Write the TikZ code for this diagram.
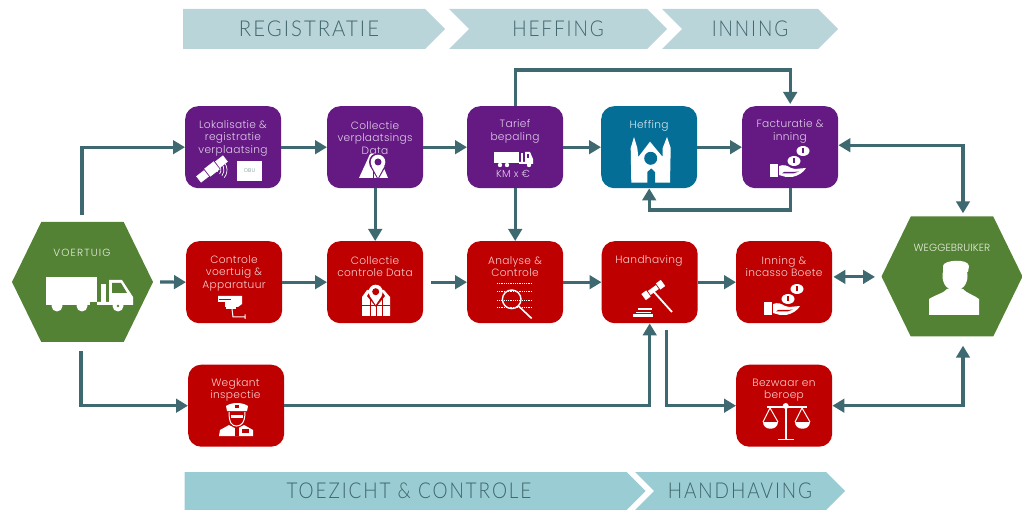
\documentclass[tikz,border=0pt]{standalone}
\usepackage{fontspec}
\usepackage{graphicx}
\setmainfont[LetterSpace=3]{Poppins Light}
\newfontfamily\headfont[LetterSpace=10]{Lato Light}
\newfontfamily\hexfontA[LetterSpace=11]{Poppins Light}
\newfontfamily\hexfontB[LetterSpace=1]{Poppins Light}
\usetikzlibrary{arrows.meta,shapes.symbols,calc}
\definecolor{purp}{HTML}{641A82}
\definecolor{bluebox}{HTML}{056E96}
\definecolor{redbox}{HTML}{BE0000}
\definecolor{greenhex}{HTML}{548235}
\definecolor{linkc}{HTML}{3E6970}
\definecolor{headA}{HTML}{BAD5DA}
\definecolor{headB}{HTML}{9ACDD3}
\definecolor{headT}{HTML}{3F666C}
\definecolor{purpT}{HTML}{E0CDE8}
\definecolor{redT}{HTML}{F8CFCF}
\definecolor{blueT}{HTML}{D4E8F0}
\definecolor{greenT}{HTML}{E6EEDD}
\newcommand{\tallhead}[1]{\scalebox{1}[1.15]{#1}}
\tikzset{
  x=1pt,y=-1pt,
  boxnode/.style={rectangle,rounded corners=13pt,minimum width=96pt,minimum height=82pt,inner sep=0pt,anchor=north west},
  purpcard/.style={boxnode,fill=purp},
  bluecard/.style={boxnode,fill=bluebox},
  redcard/.style={boxnode,fill=redbox},
  captext/.style={anchor=center,align=center,font=\fontsize{10.6}{12.5}\selectfont,inner sep=0pt},
  hexnode/.style={signal,signal to=east and west,signal pointer angle=128,fill=greenhex,minimum width=141pt,minimum height=120pt,inner sep=0pt},
  chev/.style={signal,signal to=east,signal from=west,signal pointer angle=90,inner sep=0pt,anchor=center,text=headT,font=\headfont\fontsize{19}{19}\selectfont},
  link/.style={draw=linkc,line width=3.2pt,line join=miter,-{Triangle[length=12pt,width=13.5pt]}},
  dbl/.style={link,{Triangle[length=12pt,width=13.5pt]}-{Triangle[length=12pt,width=13.5pt]}},
  pics/coinhand/.style={code={
    \fill[white] (-20,13) rectangle (-12.5,26);
    \fill[white] (-11,15) .. controls (-6,13) and (-2,15) .. (1,17) -- (5,18) -- (16,17) .. controls (14,21) and (8,25) .. (2,26) -- (-4,26) -- (-11,24) -- cycle;
    \fill[#1] (-8,22.5) -- (3,22.5) -- (9,20.5) -- (3,21) -- (-6,21) -- cycle;
    \fill[white] (13,0) ellipse (6.5 and 5);
    \fill[white] (4,10) ellipse (6.5 and 5);
    \fill[#1] (12.2,-2.5) rectangle (13.8,2.5);
    \fill[#1] (3.2,7.5) rectangle (4.8,12.5);
  }}
}
\begin{document}
\begin{tikzpicture}
\useasboundingbox (0,0) rectangle (1022,510);

% phase chevrons
\node[chev,fill=headA,signal from=nowhere,minimum width=262pt,minimum height=40pt] (cReg) at (304,29) {\hspace*{10pt}\scalebox{1.07}[1.15]{REGISTRATIE}};
\node[chev,fill=headA,minimum width=218pt,minimum height=40pt] (cHef) at (558,29) {\tallhead{HEFFING}};
\node[chev,fill=headA,minimum width=176pt,minimum height=40pt] (cInn) at (750,29) {\tallhead{INNING}};
\node[chev,fill=headB,signal from=nowhere,minimum width=461pt,minimum height=38pt] (cToe) at (405.5,491) {\hspace*{7pt}\tallhead{TOEZICHT \& CONTROLE}};
\node[chev,fill=headB,minimum width=210pt,minimum height=38pt] (cHan) at (740,491) {\tallhead{HANDHAVING}};

% hexagons
\node[hexnode] (voer) at (82.5,282) {};
\node[hexnode] (wegg) at (952,276.5) {};
\node[text=greenT,font=\hexfontA\fontsize{10.4}{11}\selectfont,inner sep=0pt] (voerT) at (82,253) {VOERTUIG};
\node[text=greenT,font=\hexfontB\fontsize{10.4}{11}\selectfont,inner sep=0pt] (weggT) at (952,248) {WEGGEBRUIKER};

% boxes
\node[purpcard] (lok) at (185,106) {};
\node[purpcard] (col) at (327,106) {};
\node[purpcard] (tar) at (467,106) {};
\node[bluecard] (hef) at (601,106) {};
\node[purpcard] (fac) at (742,106) {};
\node[redcard] (con) at (186,241) {};
\node[redcard] (cod) at (327,241) {};
\node[redcard] (ana) at (467,241) {};
\node[redcard] (han) at (601.5,241) {};
\node[redcard] (inn) at (736,241) {};
\node[redcard] (weg) at (188,364.5) {};
\node[redcard] (bez) at (736,364.5) {};

% captions
\node[captext,text=purpT] (lokT) at (233,138) {Lokalisatie \&\\registratie\\verplaatsing};
\node[captext,text=purpT] (colT) at (375,138) {Collectie\\verplaatsings\\Data};
\node[captext,text=purpT] (tarT) at (515,131.5) {Tarief\\bepaling};
\node[captext,text=blueT] (hefT) at (649,125.5) {Heffing};
\node[captext,text=purpT] (facT) at (790,131.5) {Facturatie \&\\inning};
\node[captext,text=redT] (conT) at (234,273) {Controle\\voertuig \&\\Apparatuur};
\node[captext,text=redT] (codT) at (375,266.5) {Collectie\\controle Data};
\node[captext,text=redT] (anaT) at (515,266.5) {Analyse \&\\Controle};
\node[captext,text=redT] (hanT) at (649,260.5) {Handhaving};
\node[captext,text=redT] (innT) at (784,266.5) {Inning \&\\incasso Boete};
\node[captext,text=redT] (wegT) at (235.5,390) {Wegkant\\inspectie};
\node[captext,text=redT] (bezT) at (784,390) {Bezwaar en\\beroep};
\node[text=purpT,font=\fontsize{10.2}{11}\selectfont,inner sep=0pt] (kmT) at (513,173.5) {KM x €};

% connectors
\draw[link] ([xshift=-0.5pt,yshift=7pt]voer.north) |- (lok.west);
\draw[link] (lok.east) -- (col.west);
\draw[link] (col.east) -- (tar.west);
\draw[link] (tar.east) -- (hef.west);
\draw[link] (hef.east) -- (fac.west);
\draw[link] (col.south) -- (cod.north);
\draw[link] (tar.south) -- (ana.north);
\coordinate (topy) at (0,70);
\coordinate (lowy) at (0,210);
\draw[link] (tar.north) |- (topy -| fac.north) -- ([yshift=2pt]fac.north);
\draw[link] (fac.south) |- (lowy -| hef.south) -- (hef.south);
\coordinate (fe) at ([yshift=2pt]fac.east);
\coordinate (wn) at ([xshift=11pt,yshift=3pt]wegg.north);
\draw[dbl] (fe) -| (wn);
\draw[link] ([xshift=7pt]voer.east) -- (con.west);
\draw[link] (con.east) -- (cod.west);
\draw[link] ([xshift=8pt]cod.east) -- (ana.west);
\draw[link] (ana.east) -- (han.west);
\draw[link] (han.east) -- (inn.west);
\coordinate (ie) at ([xshift=1pt,yshift=5.3pt]inn.east);
\coordinate (wl) at (875,0);
\draw[dbl] (ie) -- (ie -| wl);
\draw[link] ([xshift=-1.5pt,yshift=-9pt]voer.south) |- (weg.west);
\draw[link] (weg.east) -| (han.south);
\draw[link] ([xshift=16.5pt,yshift=-7pt]han.south) |- (bez.west);
\coordinate (ws) at ([xshift=11pt,yshift=-9pt]wegg.south);
\draw[dbl] (bez.east) -| (ws);

% truck (vehicle)
\fill[white] (46,277) rectangle (97,302);
\fill[white] (57,306) circle (5.5) (82,306) circle (5.5) (118,306) circle (5.5);
\fill[white] (46,298) rectangle (90,305);
\fill[white] (101,284) rectangle (106,302);
\fill[white] (109,280) -- (122,280) -- (133,297) -- (133,305) -- (97,305) -- (97,302) -- (109,302) -- cycle;
\fill[greenhex] (112,283) -- (121,283) -- (127,293) -- (112,293) -- cycle;
\fill[greenhex] (118,306) circle (1.3);

% person
\fill[white] (955,276) ellipse (12.5 and 15);
\fill[white] (943,266) .. controls (943,260) and (968,258) .. (969,266) -- (968,272) -- (943,272) -- cycle;
\fill[white] (929,315) -- (929,299) .. controls (935,295) and (944,293) .. (947,289) -- (963,289) .. controls (966,293) and (974,295) .. (979,299) -- (979,315) -- cycle;

% satellite
\begin{scope}[shift={(212,169)},rotate=38]
  \fill[white] (-17,-4) rectangle (-7,4);
  \fill[white] (7,-4) rectangle (17,4);
  \fill[white] (-6,-5) rectangle (6,5);
\end{scope}
\foreach \r in {3,6,9,12}{\draw[white,line width=0.7pt] ($(215,170)+(40:\r)$) arc (40:-60:\r);}
% OBU
\fill[white] (237,161) rectangle (262,181);
\node[text=headT!70,font=\fontsize{5.4}{6}\selectfont,inner sep=0pt] (obuT) at (249.5,171) {OBU};

% road + pin
\fill[white] (370,154) -- (378,154) -- (388,178) -- (359,178) -- cycle;
\fill[purp] (372.5,158) rectangle (373.5,178);
\fill[purp] (378,162) circle (9);
\fill[purp] (370,166) -- (378,180) -- (386,166) -- cycle;
\fill[white] (378,162) circle (7.3);
\fill[white] (371.5,166) -- (378,178) -- (384.5,166) -- cycle;
\fill[purp] (378,162) circle (3.5);

% small truck
\fill[white] (494,152) rectangle (519,163);
\fill[white] (521,153) rectangle (523,163);
\fill[white] (525,152) -- (530,152) -- (533,159) -- (533,164) -- (519,164) -- (519,162) -- (525,162) -- cycle;
\fill[white] (500,165) circle (2.2) (507,165) circle (2.2) (529,165) circle (2.2);
\fill[purp] (527,154) rectangle (529,158);

% church
\fill[white] (630.7,148) -- (634,137) -- (637.3,148) -- (638.3,157) -- (650,141.7) -- (662.7,157) -- (662.7,148) -- (667,137) -- (670.7,148) -- (670,182.7) -- (631.3,182.7) -- cycle;
\fill[bluebox] (650.7,158.3) circle (6.5);
\fill[bluebox] (647.3,183) -- (647.3,172) -- (651.2,168.5) -- (655,172) -- (655,183) -- cycle;

% coins
\pic at (790,151) {coinhand=purp};
\pic at (784,289) {coinhand=redbox};

% camera
\fill[white] (218,296) -- (242,296) -- (242,304) -- (238,307) -- (225,307) -- (225,302) -- (218,302) -- cycle;
\draw[redbox,line width=0.8pt] (219,299.5) -- (231,299.5);
\fill[white] (226,307) rectangle (236,309);
\draw[white,line width=1pt] (232,309) -- (233,317) -- (245,317) (245,314.5) -- (245,319);

% vest + pin
\fill[white] (367,290) -- (362,297) -- (362,316) -- (390,316) -- (390,297) -- (384,290) -- cycle;
\draw[redbox,line width=1pt] (362,306) -- (390,306) (370,296) -- (370,316) (382,296) -- (382,316) (376,306) -- (376,316);
\fill[redbox] (376,307) -- (367,296) -- (376,283) -- (385,296) -- cycle;
\fill[white] (375.7,291.7) circle (7);
\fill[white] (369.5,295.5) -- (375.7,305) -- (382,295.5) -- cycle;
\fill[redbox] (375.7,291.7) circle (3.5);

% magnifier with data rows
\foreach \yy in {283,291.5,300,307}{\draw[white,line width=0.9pt,dash pattern=on 1pt off 0.8pt] (497,\yy) -- (532,\yy);}
\draw[white,line width=1.4pt] (511.7,299.3) circle (9.3);
\draw[white,line width=1.6pt] (518.5,306) -- (531.7,318.5);

% gavel
\draw[white,line width=1.8pt] (654,292) -- (672,312);
\begin{scope}[shift={(653.3,290)},rotate=36]
  \fill[white] (-12,-3.8) rectangle (-6,3.8);
  \fill[white] (6,-3.8) rectangle (12,3.8);
  \fill[white] (-5,-2.4) rectangle (5,2.4);
\end{scope}
\fill[white] (638,308) rectangle (652,310.5);
\fill[white] (636,312) rectangle (651,313.5);
\fill[white] (633,314.5) rectangle (653,317);

% officer
\fill[white] (226,406) .. controls (232,402) and (242,402) .. (248,406) -- (247,411) -- (227,411) -- cycle;
\fill[redbox] (235,405) rectangle (238.5,408);
\draw[white,line width=1pt] (229,412) .. controls (229,423) and (232,426) .. (236.5,426) .. controls (241,426) and (245,423) .. (245,412);
\fill[white] (231,415) rectangle (243,417.5);
\fill[white] (219,436) -- (220,430) -- (229,425) -- (236.5,429) -- (244,425) -- (253,430) -- (253,436) -- cycle;
\fill[redbox] (235,427) rectangle (238.5,436);
\fill[redbox] (241.5,429) rectangle (249,433);

% scales
\fill[white] (785,407) rectangle (786.6,439);
\fill[white] (778,438.5) rectangle (794,439.6);
\fill[white] (766.7,406) rectangle (806.7,408);
\fill[white] (785.7,406) circle (3);
\draw[white,line width=1pt] (763,422) -- (770,408) -- (778,422) (795,422) -- (802,408) -- (810,422);
\fill[white] (763,422) -- (778,422) .. controls (778,431) and (763,431) .. (763,422) -- cycle;
\fill[white] (795,422) -- (810,422) .. controls (810,431) and (795,431) .. (795,422) -- cycle;
\end{tikzpicture}
\end{document}
